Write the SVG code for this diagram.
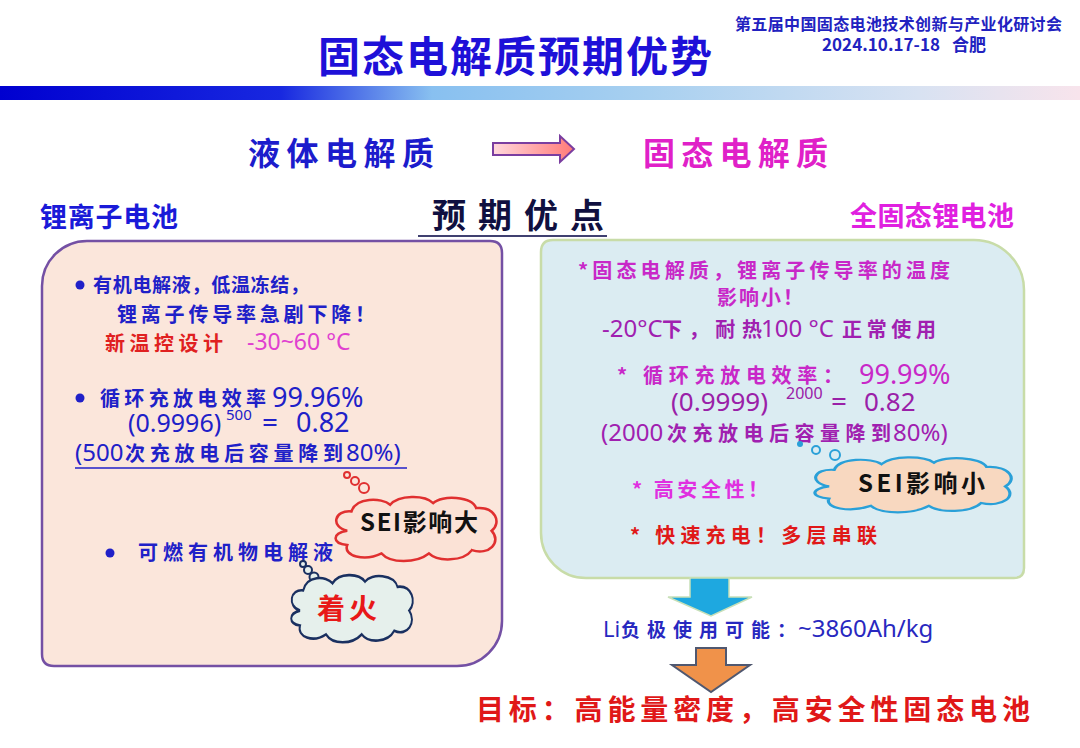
<svg xmlns="http://www.w3.org/2000/svg" width="1080" height="748" viewBox="0 0 1080 748">
<defs>
<style>
.cjk{font-family:"Noto Sans CJK SC","Noto Sans",sans-serif;font-weight:bold;}
.num{font-family:"Noto Sans","Noto Sans CJK SC",sans-serif;font-weight:normal;}
.blue{fill:#2020c8;}
.mag{fill:#c828c8;}
.pur{fill:#a020b0;}
.red{fill:#e01818;}
.cloudline{vector-effect:non-scaling-stroke;stroke-width:3;}
</style>
<linearGradient id="bar" x1="0" y1="0" x2="1" y2="0">
<stop offset="0" stop-color="#0000d0"/>
<stop offset="0.26" stop-color="#1828e0"/>
<stop offset="0.4" stop-color="#88c0f0"/>
<stop offset="0.6" stop-color="#a8d0f0"/>
<stop offset="0.85" stop-color="#d8e2f2"/>
<stop offset="1" stop-color="#f8e4ec"/>
</linearGradient>
<linearGradient id="pinkArrow" x1="0" y1="0" x2="1" y2="0">
<stop offset="0" stop-color="#ffd8dc"/>
<stop offset="1" stop-color="#ff7a78"/>
</linearGradient>
<path id="cloud" d="M20,45 C0,40 5,20 25,22 C30,5 60,5 70,14 C80,2 110,2 120,12 C130,2 165,4 170,18 C192,16 200,35 188,45 C200,58 185,75 165,68 C155,82 125,82 115,72 C100,84 70,84 60,72 C40,82 15,75 20,62 C2,60 2,48 20,45 Z"/>
</defs>
<rect width="1080" height="748" fill="#ffffff"/>

<g id="header">
<text class="cjk" x="318" y="72" font-size="42" font-weight="900" fill="#1e10d8" textLength="394">固态电解质预期优势</text>
<text class="cjk" x="735" y="30" font-size="16" fill="#2222c0" textLength="327">第五届中国固态电池技术创新与产业化研讨会</text>
<text class="cjk" x="822" y="51" font-size="17" fill="#2222c0" textLength="118">2024.10.17-18</text>
<text class="cjk" x="952" y="51" font-size="17" fill="#2222c0">合肥</text>
<rect x="0" y="86" width="1080" height="14" fill="url(#bar)"/>
</g>

<g id="labels">
<text class="cjk" x="248" y="165" font-size="32" fill="#1c1ccc" textLength="186">液体电解质</text>
<text class="cjk" x="643" y="165" font-size="32" fill="#e020c8" textLength="185">固态电解质</text>
<text class="cjk" x="40" y="227" font-size="27" fill="#1a1ad8" textLength="138">锂离子电池</text>
<text class="cjk" x="432" y="228" font-size="34" fill="#101040" textLength="172">预期优点</text>
<line x1="418" y1="236" x2="607" y2="236" stroke="#404070" stroke-width="2"/>
<text class="cjk" x="850" y="226" font-size="27" fill="#e020e0" textLength="164">全固态锂电池</text>
</g>

<g id="left-box">
<path d="M87,241 H490 Q502,241 502,253 V621 A45,45 0 0 1 457,666 H54 Q42,666 42,654 V286 A45,45 0 0 1 87,241 Z" fill="#fbe6db" stroke="#7450a4" stroke-width="2.5"/>
<circle cx="80" cy="285" r="4.5" fill="#2020c8"/>
<text class="cjk blue" x="93" y="292" font-size="19" textLength="216">有机电解液，低温冻结，</text>
<text class="cjk blue" x="117" y="322" font-size="20" textLength="258">锂离子传导率急剧下降！</text>
<text class="cjk" x="105" y="351" font-size="20" fill="#e02020" textLength="118">新温控设计</text>
<text class="num" x="247" y="350" font-size="23" fill="#e040d0">-30~60 °C</text>
<circle cx="80" cy="398" r="4.5" fill="#2020c8"/>
<text class="cjk blue" x="100" y="406" font-size="20" textLength="166">循环充放电效率</text>
<text class="num blue" x="272" y="407" font-size="27">99.96%</text>
<text class="num blue" x="128" y="432" font-size="25">(0.9996)</text>
<text class="num blue" x="226" y="420" font-size="15">500</text>
<text class="num blue" x="262" y="432" font-size="28">=</text>
<text class="num blue" x="296" y="432" font-size="27">0.82</text>
<text class="num blue" x="75" y="461" font-size="24">(500</text>
<text class="cjk blue" x="125" y="461" font-size="20" textLength="218">次充放电后容量降到</text>
<text class="num blue" x="346" y="461" font-size="24">80%)</text>
<line x1="75" y1="468" x2="407" y2="468" stroke="#2020c8" stroke-width="1.5"/>
<circle cx="110" cy="553" r="4.5" fill="#2020c8"/>
<text class="cjk blue" x="138" y="560" font-size="20" textLength="195">可燃有机物电解液</text>
</g>

<g id="cloud-sei-large">
<circle cx="347" cy="475" r="3" fill="#fbe6db" stroke="#e03030" stroke-width="2"/>
<circle cx="355" cy="481" r="4" fill="#fbe6db" stroke="#e03030" stroke-width="2"/>
<circle cx="364" cy="488" r="5" fill="#fbe6db" stroke="#e03030" stroke-width="2"/>
<use href="#cloud" transform="translate(330,493) scale(0.86,0.84)" fill="#fbe2d6" stroke="#e03030" class="cloudline"/>
<text class="cjk" x="360" y="531" font-size="24" fill="#111111" textLength="118">SEI影响大</text>
</g>

<g id="cloud-fire">
<circle cx="303" cy="564" r="3" fill="#e6f0ec" stroke="#1a3060" stroke-width="2"/>
<circle cx="308" cy="570" r="4" fill="#e6f0ec" stroke="#1a3060" stroke-width="2"/>
<circle cx="314" cy="577" r="4.5" fill="#e6f0ec" stroke="#1a3060" stroke-width="2"/>
<use href="#cloud" transform="translate(287,571) scale(0.65,0.88)" fill="#e6f0ec" stroke="#1a3060" class="cloudline"/>
<text class="cjk" x="317" y="619" font-size="28" fill="#e81818" textLength="60">着火</text>
</g>

<g id="right-box">
<path d="M553,240 H974 A50,50 0 0 1 1024,290 V568 Q1024,578 1014,578 H586 A45,45 0 0 1 541,533 V252 Q541,240 553,240 Z" fill="#dbecf2" stroke="#c8dca8" stroke-width="2.5"/>
<text class="cjk mag" x="578" y="278" font-size="20" textLength="372">*固态电解质，锂离子传导率的温度</text>
<text class="cjk mag" x="717" y="305" font-size="20" textLength="86">影响小！</text>
<text class="num pur" x="602" y="337" font-size="24">-20°C</text>
<text class="cjk pur" x="662" y="337" font-size="20" textLength="100">下，耐热</text>
<text class="num pur" x="761" y="337" font-size="24">100 °C</text>
<text class="cjk pur" x="842" y="337" font-size="20" textLength="94">正常使用</text>
<text class="cjk mag" x="617" y="383" font-size="20" textLength="226">* 循环充放电效率：</text>
<text class="num mag" x="859" y="384" font-size="27">99.99%</text>
<text class="num" x="671" y="411" font-size="26" fill="#9a20a8">(0.9999)</text>
<text class="num" x="786" y="399" font-size="16" fill="#9a20a8">2000</text>
<text class="num" x="831" y="411" font-size="28" fill="#9a20a8">=</text>
<text class="num" x="864" y="411" font-size="26" fill="#9a20a8">0.82</text>
<text class="num pur" x="601" y="441" font-size="24">(2000</text>
<text class="cjk pur" x="667" y="441" font-size="20" textLength="224">次充放电后容量降到</text>
<text class="num pur" x="893" y="441" font-size="24">80%)</text>
<text class="cjk" x="632" y="497" font-size="20" fill="#e030e0" textLength="136">* 高安全性！</text>
<text class="cjk red" x="630" y="543" font-size="20" textLength="247">* 快速充电！多层串联</text>
</g>

<g id="cloud-sei-small">
<circle cx="800" cy="444" r="3" fill="#2aa0d8"/>
<circle cx="816" cy="450" r="4" fill="#dbecf2" stroke="#2aa0d8" stroke-width="2"/>
<circle cx="835" cy="455" r="5" fill="#dbecf2" stroke="#2aa0d8" stroke-width="2"/>
<use href="#cloud" transform="translate(808,454) scale(1.05,0.72)" fill="#f8d8c0" stroke="#2aa0d8" class="cloudline"/>
<text class="cjk" x="858" y="492" font-size="24" fill="#111111" textLength="127">SEI影响小</text>
</g>

<g id="li-anode">
<text class="num" x="603" y="637" font-size="22" fill="#2828c0">Li</text>
<text class="cjk" x="621" y="637" font-size="19" fill="#2828c0" textLength="175">负极使用可能：</text>
<text class="num" x="798" y="637" font-size="24" fill="#2828c0">~3860Ah/kg</text>
</g>

<g id="goal">
<text class="cjk red" x="476" y="720" font-size="28" textLength="554">目标：高能量密度，高安全性固态电池</text>
</g>

<g id="connectors">
<path d="M493,143 H560 V136 L574,149 L560,162 V155 H493 Z" fill="url(#pinkArrow)" stroke="#7a3ea0" stroke-width="2"/>
<path d="M690,578 H729 V597 H752 L711,616 L668,597 H690 Z" fill="#1ea8e0" stroke="#c8e0b8" stroke-width="1.5"/>
<path d="M696,648 H726 V665 H750 L711,692 L672,665 H696 Z" fill="#f0924a" stroke="#505870" stroke-width="2"/>
</g>
</svg>
